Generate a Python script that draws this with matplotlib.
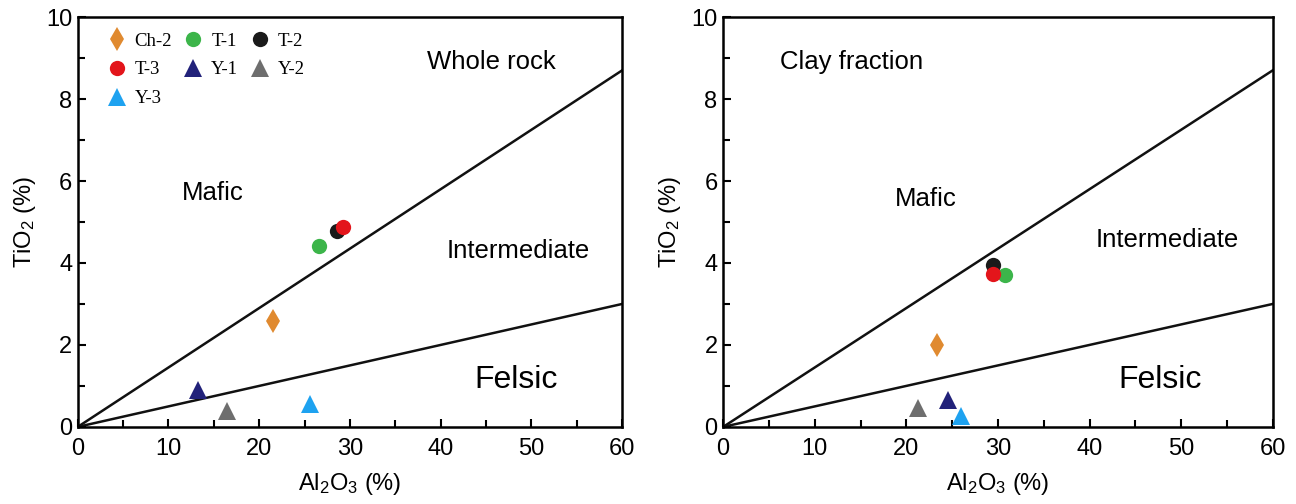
import matplotlib.pyplot as plt
from matplotlib.ticker import MultipleLocator

plt.rcParams['font.family'] = ['Liberation Sans', 'DejaVu Sans']
plt.rcParams['mathtext.default'] = 'regular'

# Sample names, styles and values (Al2O3 %, TiO2 %)
samples = ['Ch-2', 'T-1', 'T-2', 'T-3', 'Y-1', 'Y-2', 'Y-3']
markers = ['d', 'o', 'o', 'o', '^', '^', '^']
colors = ['#e08a30', '#3cb54a', '#1a1a1a', '#e3151b', '#22227a', '#6e6e6e', '#1ea2f0']
sizes = [12, 11, 11, 11, 13, 13, 13]

rock_al2o3 = [21.5, 26.6, 28.6, 29.2, 13.2, 16.4, 25.6]
rock_tio2 = [2.58, 4.42, 4.79, 4.87, 0.9, 0.38, 0.56]

clay_al2o3 = [23.3, 30.8, 29.5, 29.5, 24.6, 21.3, 26.0]
clay_tio2 = [2.0, 3.71, 3.96, 3.73, 0.66, 0.45, 0.27]

# discrimination boundaries
bound_x = [0, 60]
bound_upper = [0, 8.7]
bound_lower = [0, 3.0]

fig = plt.figure(figsize=(12.96, 5.04), dpi=100)
ax1 = fig.add_axes([0.060, 0.153, 0.420, 0.813])
ax2 = fig.add_axes([0.558, 0.153, 0.424, 0.813])

def draw_panel(ax, xs, ys, title, title_xy, mafic_xy, inter_xy, felsic_xy):
    ax.plot(bound_x, bound_upper, color='#111111', lw=1.8, zorder=2)
    ax.plot(bound_x, bound_lower, color='#111111', lw=1.8, zorder=2)
    handles = []
    for i in range(len(samples)):
        h, = ax.plot(xs[i], ys[i], linestyle='none', marker=markers[i],
                     color=colors[i], markersize=sizes[i], markeredgewidth=0,
                     label=samples[i], zorder=3)
        handles.append(h)
    ax.set_xlim(0, 60)
    ax.set_ylim(0, 10)
    ax.xaxis.set_major_locator(MultipleLocator(10))
    ax.xaxis.set_minor_locator(MultipleLocator(5))
    ax.yaxis.set_major_locator(MultipleLocator(2))
    ax.yaxis.set_minor_locator(MultipleLocator(1))
    ax.tick_params(which='both', direction='in', width=1.5, labelsize=17, pad=4)
    ax.tick_params(axis='x', which='both', pad=8)
    ax.tick_params(which='major', length=6)
    ax.tick_params(which='minor', length=5)
    for s in ax.spines.values():
        s.set_linewidth(1.8)
    ax.set_xlabel('Al$_2$O$_3$ (%)', fontsize=17, labelpad=8)
    ax.set_ylabel('TiO$_2$ (%)', fontsize=17, labelpad=6)
    ax.text(title_xy[0], title_xy[1], title, fontsize=18.5, ha='center', va='center')
    ax.text(mafic_xy[0], mafic_xy[1], 'Mafic', fontsize=18.5, ha='center', va='center')
    ax.text(inter_xy[0], inter_xy[1], 'Intermediate', fontsize=18.5, ha='center', va='center')
    ax.text(felsic_xy[0], felsic_xy[1], 'Felsic', fontsize=23, ha='center', va='center')
    return handles

handles = draw_panel(ax1, rock_al2o3, rock_tio2, 'Whole rock',
                     (45.6, 8.9), (14.9, 5.7), (48.5, 4.3), (48.3, 1.15))
draw_panel(ax2, clay_al2o3, clay_tio2, 'Clay fraction',
           (14.0, 8.9), (22.1, 5.55), (48.5, 4.55), (47.7, 1.15))

# legend filled row by row: Ch-2 T-1 T-2 / T-3 Y-1 Y-2 / Y-3
order = [0, 3, 6, 1, 4, 2, 5]
ax1.legend([handles[i] for i in order], [samples[i] for i in order],
           ncol=3, frameon=False, loc='upper left', bbox_to_anchor=(0.03, 0.99),
           prop={'family': 'Liberation Serif', 'size': 13.5},
           handletextpad=0.35, columnspacing=0.55, labelspacing=0.62,
           handlelength=1.2, borderaxespad=0.2)

fig.savefig('out.png', dpi=100)
